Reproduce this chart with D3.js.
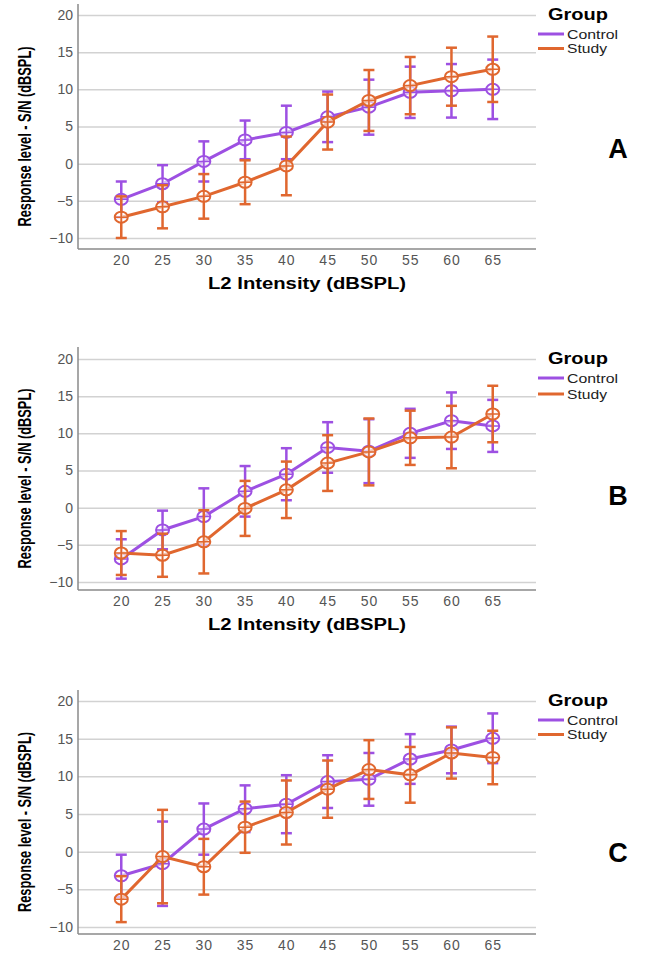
<!DOCTYPE html>
<html>
<head>
<meta charset="utf-8">
<script src="https://cdn.jsdelivr.net/npm/d3@7.9.0/dist/d3.min.js"></script>
<style>
  body { margin: 0; background: #fff; }
  svg { display: block; }
</style>
</head>
<body>
<div id="chart"></div>
<script>
const intensities = [20, 25, 30, 35, 40, 45, 50, 55, 60, 65];
const yTicks = [-10, -5, 0, 5, 10, 15, 20];
const groups = ["Control", "Study"];
const panelLabels = ["A", "B", "C"];

// means and half-width of the error bars
const aControlMean = [-4.8, -2.7, 0.3, 3.2, 4.2, 6.3, 7.6, 9.6, 9.8, 10.0];
const aControlErr = [2.4, 2.5, 2.7, 2.6, 3.6, 3.4, 3.7, 3.45, 3.6, 4.0];
const aStudyMean = [-7.2, -5.8, -4.4, -2.5, -0.3, 5.6, 8.5, 10.5, 11.7, 12.7];
const aStudyErr = [2.8, 2.9, 3.0, 2.95, 3.95, 3.7, 4.1, 3.85, 3.9, 4.4];

const bControlMean = [-6.9, -3.0, -1.2, 2.2, 4.5, 8.1, 7.6, 10.0, 11.7, 11.0];
const bControlErr = [2.65, 2.6, 3.8, 3.4, 3.5, 3.4, 4.3, 3.3, 3.8, 3.5];
const bStudyMean = [-6.1, -6.4, -4.6, -0.1, 2.4, 6.0, 7.5, 9.4, 9.5, 12.6];
const bStudyErr = [2.95, 2.9, 4.25, 3.7, 3.8, 3.75, 4.5, 3.65, 4.2, 3.8];

const cControlMean = [-3.2, -1.6, 3.0, 5.7, 6.3, 9.3, 9.6, 12.3, 13.5, 15.05];
const cControlErr = [2.8, 5.6, 3.4, 3.1, 3.85, 3.5, 3.5, 3.3, 3.1, 3.3];
const cStudyMean = [-6.3, -0.65, -2.0, 3.25, 5.2, 8.3, 10.9, 10.2, 13.1, 12.5];
const cStudyErr = [3.05, 6.2, 3.7, 3.4, 4.25, 3.8, 3.9, 3.7, 3.4, 3.55];

const colors = { Control: "#9d50e2", Study: "#e0672f" };

const width = 646;
const height = 957;

// vertical layout of each panel (top of y axis, gridline 20, gridline -10, x axis)
const panels = [
  { label: "A", top: 4, y20: 15, yMin: 238, bottom: 249, title: true, legendY: 20, letterY: 158,
    series: { Control: [aControlMean, aControlErr], Study: [aStudyMean, aStudyErr] } },
  { label: "B", top: 347, y20: 359, yMin: 582, bottom: 590, title: true, legendY: 364, letterY: 505,
    series: { Control: [bControlMean, bControlErr], Study: [bStudyMean, bStudyErr] } },
  { label: "C", top: 690, y20: 701, yMin: 927, bottom: 934, title: false, legendY: 706, letterY: 862,
    series: { Control: [cControlMean, cControlErr], Study: [cStudyMean, cStudyErr] } },
];

const left = 78;
const right = 536;

const svg = d3.select("#chart")
  .append("svg")
  .attr("width", width)
  .attr("height", height)
  .style("font-family", "'Liberation Sans', Arial, sans-serif");

const x = d3.scalePoint()
  .domain(intensities)
  .range([80, 534])
  .padding(1);

panels.forEach((p) => {
  const g = svg.append("g");
  const y = d3.scaleLinear().domain([-10, 20]).range([p.yMin, p.y20]);

  // gridlines
  g.append("g")
    .attr("transform", `translate(${left},0)`)
    .call(d3.axisLeft(y).tickValues(yTicks).tickFormat("").tickSize(-(right - left)))
    .call((s) => s.select(".domain").remove())
    .selectAll("line")
    .attr("stroke", "#d2d2d2")
    .attr("stroke-width", 1.5);

  // y tick labels
  g.append("g")
    .attr("transform", `translate(${left},0)`)
    .call(d3.axisLeft(y).tickValues(yTicks).tickSize(0).tickPadding(5))
    .call((s) => s.select(".domain").remove())
    .selectAll("text")
    .attr("fill", "#555")
    .style("font-size", "14px")
    .style("font-family", "'Liberation Sans', Arial, sans-serif");

  // x tick labels
  g.append("g")
    .attr("transform", `translate(0,${p.bottom})`)
    .call(d3.axisBottom(x).tickSize(0).tickPadding(6))
    .call((s) => s.select(".domain").remove())
    .selectAll("text")
    .attr("fill", "#555")
    .style("font-size", "14px")
    .style("letter-spacing", "1px")
    .style("font-family", "'Liberation Sans', Arial, sans-serif");

  // axis lines
  g.append("line")
    .attr("x1", left).attr("x2", left)
    .attr("y1", p.top).attr("y2", p.bottom)
    .attr("stroke", "#8a8a8a").attr("stroke-width", 1.5);
  g.append("line")
    .attr("x1", left).attr("x2", right)
    .attr("y1", p.bottom).attr("y2", p.bottom)
    .attr("stroke", "#8a8a8a").attr("stroke-width", 1.5);

  // y axis title
  const yMid = (p.top + p.bottom) / 2 + 10;
  g.append("text")
    .attr("transform", `translate(31,${yMid}) rotate(-90)`)
    .attr("text-anchor", "middle")
    .attr("font-family", "'Liberation Sans Narrow', 'Liberation Sans', Arial, sans-serif")
    .attr("font-weight", "bold")
    .attr("font-size", "18px")
    .attr("textLength", 180)
    .attr("lengthAdjust", "spacingAndGlyphs")
    .text("Response level - S/N (dBSPL)");

  if (p.title) {
    g.append("text")
      .attr("x", 307)
      .attr("y", p.bottom + 40)
      .attr("text-anchor", "middle")
      .attr("font-weight", "bold")
      .attr("font-size", "16px")
      .attr("textLength", 198)
      .attr("lengthAdjust", "spacingAndGlyphs")
      .text("L2 Intensity (dBSPL)");
  }

  // series
  groups.forEach((name) => {
    const [means, errs] = p.series[name];
    const pts = intensities.map((v, i) => ({ x: v, m: means[i], e: errs[i] }));
    const col = colors[name];
    const s = g.append("g");

    s.selectAll("line.bar")
      .data(pts)
      .join("line")
      .attr("class", "bar")
      .attr("x1", (d) => x(d.x)).attr("x2", (d) => x(d.x))
      .attr("y1", (d) => y(d.m - d.e)).attr("y2", (d) => y(d.m + d.e))
      .attr("stroke", col).attr("stroke-width", 2.5);

    ["lo", "hi"].forEach((k) => {
      s.selectAll(`line.cap-${k}`)
        .data(pts)
        .join("line")
        .attr("class", `cap-${k}`)
        .attr("x1", (d) => x(d.x) - 5.5).attr("x2", (d) => x(d.x) + 5.5)
        .attr("y1", (d) => y(k === "lo" ? d.m - d.e : d.m + d.e))
        .attr("y2", (d) => y(k === "lo" ? d.m - d.e : d.m + d.e))
        .attr("stroke", col).attr("stroke-width", 2.5);
    });

    s.append("path")
      .datum(pts)
      .attr("fill", "none")
      .attr("stroke", col)
      .attr("stroke-width", 3)
      .attr("d", d3.line().x((d) => x(d.x)).y((d) => y(d.m)));

    const mk = s.selectAll("g.mk")
      .data(pts)
      .join("g")
      .attr("class", "mk")
      .attr("transform", (d) => `translate(${x(d.x)},${y(d.m)})`);
    mk.append("ellipse")
      .attr("rx", 6.5).attr("ry", 5.5)
      .attr("fill", "#fff").attr("fill-opacity", 0.6)
      .attr("stroke", col).attr("stroke-width", 2);
    mk.append("path")
      .attr("d", "M-6.5,0H6.5M0,-5.5V5.5")
      .attr("stroke", col).attr("stroke-width", 1.5);
  });

  // legend
  const lg = g.append("g");
  lg.append("text")
    .attr("x", 548).attr("y", p.legendY)
    .attr("font-weight", "bold")
    .attr("font-size", "16px")
    .attr("textLength", 60)
    .attr("lengthAdjust", "spacingAndGlyphs")
    .text("Group");
  groups.forEach((name, i) => {
    const ly = p.legendY + 14 + i * (p.label === "B" ? 16 : 14.5);
    lg.append("line")
      .attr("x1", 538).attr("x2", 564)
      .attr("y1", ly).attr("y2", ly)
      .attr("stroke", colors[name]).attr("stroke-width", 3);
    lg.append("text")
      .attr("x", 567).attr("y", ly + 4.5)
      .attr("font-size", "13px")
      .attr("fill", "#222")
      .attr("textLength", name === "Control" ? 51 : 40)
      .attr("lengthAdjust", "spacingAndGlyphs")
      .text(name);
  });

  // panel letter
  g.append("text")
    .attr("x", 618).attr("y", p.letterY)
    .attr("text-anchor", "middle")
    .attr("font-weight", "bold")
    .attr("font-size", "27px")
    .text(p.label);
});
</script>
</body>
</html>
